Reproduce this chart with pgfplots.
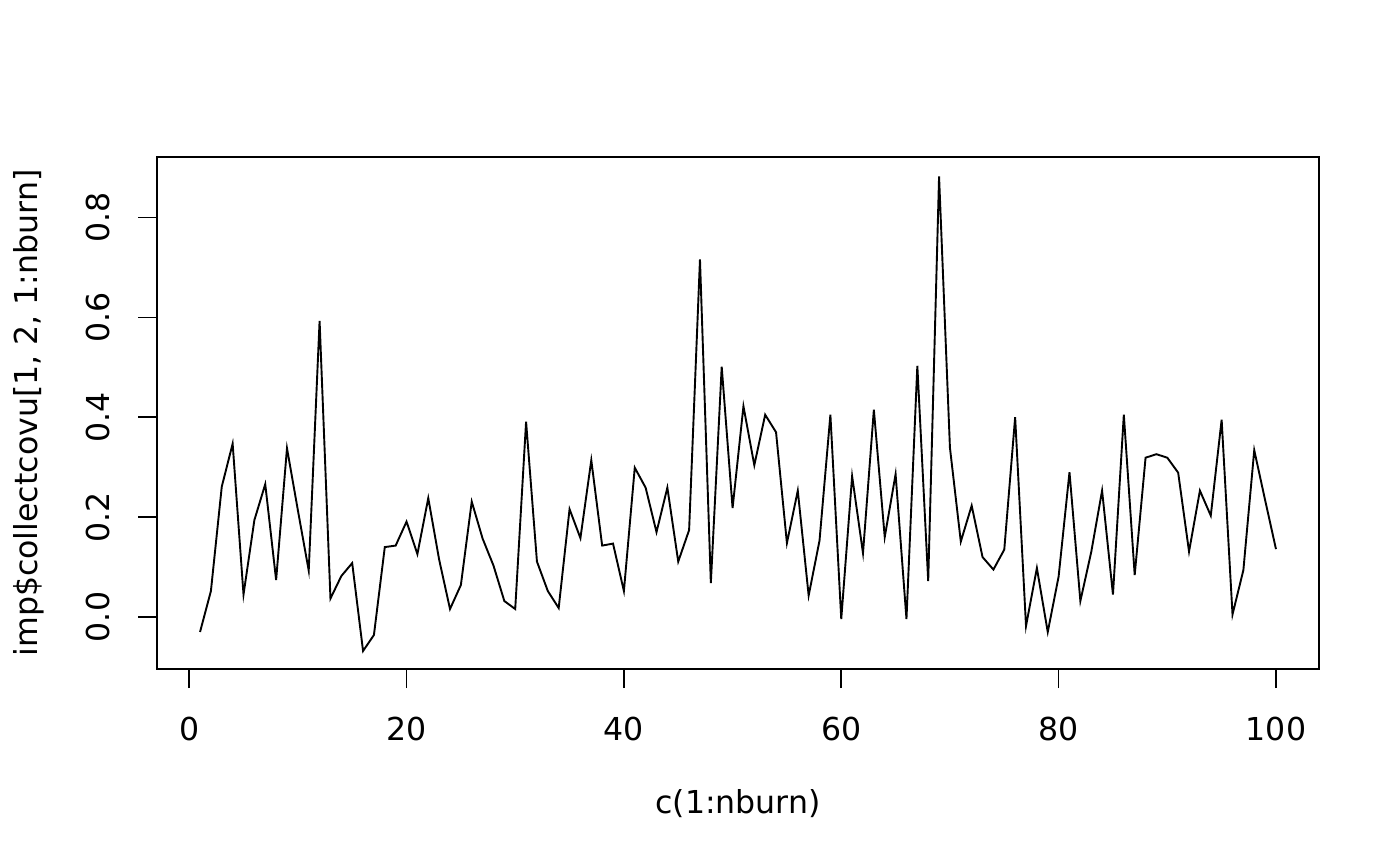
\documentclass[border=0pt]{standalone}
\usepackage{fontspec}
\setmainfont{DejaVu Sans}
\usepackage{pgfplots}
\pgfplotsset{compat=1.18}
\begin{document}
\fontsize{15.8}{19}\selectfont
\begin{tikzpicture}
\path[use as bounding box] (0,0) rectangle (700pt,433pt);
\begin{axis}[
  at={(78.5pt,98.5pt)}, anchor=south west,
  scale only axis, width=581pt, height=256pt,
  xmin=-2.96, xmax=103.96, ymin=-0.1041, ymax=0.9211,
  xtick={0,20,40,60,80,100},
  ytick={0,0.2,0.4,0.6,0.8},
  xtick pos=left, ytick pos=left,
  tick align=outside, major tick length=9.5pt,
  every tick/.style={line width=0.8pt, black},
  major tick style={line width=0.8pt, black},
  axis line style={line width=0.8pt},
  /pgf/number format/assume math mode=true,
  yticklabel={\pgfmathprintnumber[fixed,fixed zerofill,precision=1]{\tick}},
  xticklabel style={anchor=base, yshift=-26pt},
  yticklabel style={xshift=-14pt, rotate=90, anchor=base},
  xlabel={c(1:nburn)},
  ylabel={imp\$collectcovu[1, 2, 1:nburn]},
  xlabel style={at={(axis description cs:0.5,0)}, anchor=base, yshift=-72pt},
  ylabel style={at={([xshift=-59.5pt]axis description cs:0,0.5)}, anchor=base},
]
\addplot[black, line width=0.95pt, mark=none] table {
x y
1 -0.030
2 0.052
3 0.261
4 0.347
5 0.045
6 0.194
7 0.266
8 0.074
9 0.338
10 0.214
11 0.093
12 0.593
13 0.037
14 0.082
15 0.108
16 -0.068
17 -0.036
18 0.140
19 0.143
20 0.191
21 0.126
22 0.238
23 0.115
24 0.016
25 0.064
26 0.231
27 0.157
28 0.103
29 0.032
30 0.016
31 0.391
32 0.111
33 0.052
34 0.018
35 0.216
36 0.158
37 0.314
38 0.143
39 0.147
40 0.052
41 0.299
42 0.259
43 0.170
44 0.259
45 0.111
46 0.174
47 0.716
48 0.068
49 0.501
50 0.218
51 0.422
52 0.304
53 0.405
54 0.370
55 0.148
56 0.253
57 0.043
58 0.153
59 0.405
60 -0.004
61 0.282
62 0.128
63 0.415
64 0.160
65 0.286
66 -0.004
67 0.503
68 0.072
69 0.882
70 0.339
71 0.151
72 0.223
73 0.120
74 0.095
75 0.135
76 0.400
77 -0.018
78 0.098
79 -0.030
80 0.081
81 0.290
82 0.032
83 0.130
84 0.253
85 0.045
86 0.405
87 0.084
88 0.319
89 0.326
90 0.319
91 0.289
92 0.131
93 0.253
94 0.203
95 0.395
96 0.005
97 0.094
98 0.334
99 0.234
100 0.136
};
\end{axis}
\end{tikzpicture}
\end{document}
